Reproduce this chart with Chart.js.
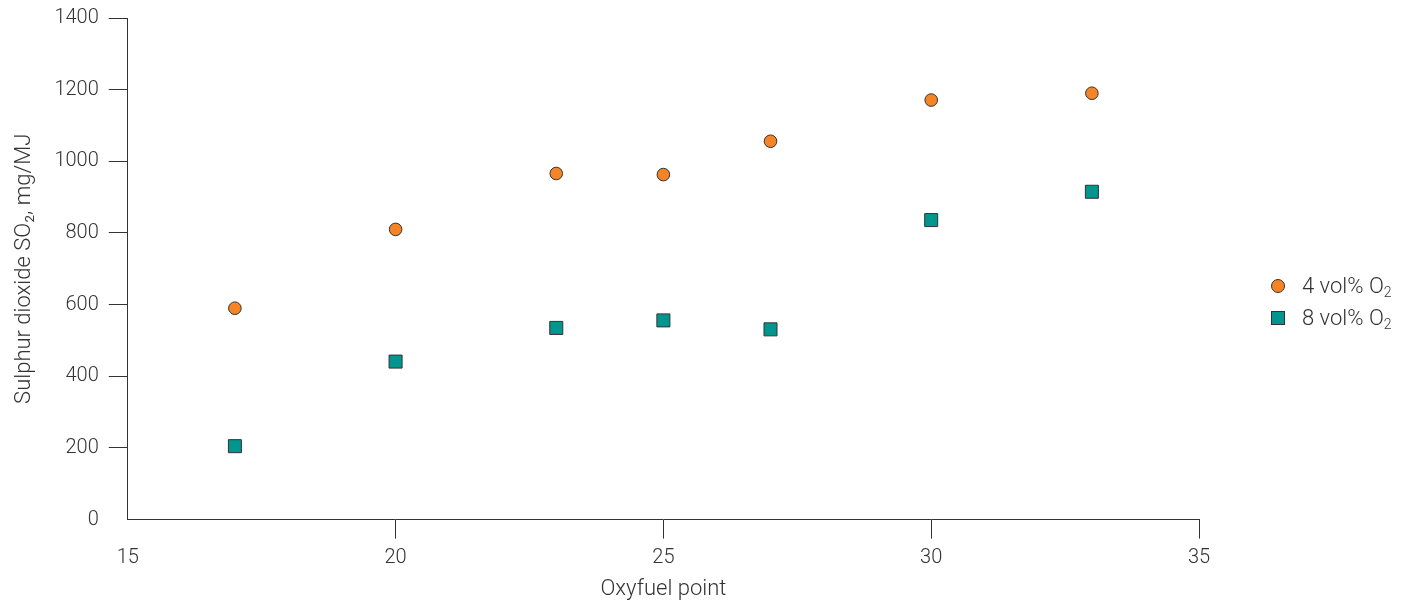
<!DOCTYPE html>
<html>
<head>
<meta charset="utf-8">
<script src="https://cdn.jsdelivr.net/npm/chart.js@4/dist/chart.umd.min.js"></script>
<style>
  html, body { margin: 0; padding: 0; background: #fff; }
  #wrap { position: relative; width: 1415px; height: 605px; }
  #legend { position: absolute; left: 1271px; top: 270px; font-family: Roboto, "Liberation Sans", Arial, sans-serif; font-weight: 300; font-size: 22px; color: #333; }
  #legend .item { display: flex; align-items: center; height: 32px; }
  #legend .mark { width: 12px; height: 12px; border: 1px solid #333; margin-right: 17px; box-sizing: content-box; }
  #legend sub { font-size: 14px; vertical-align: -4px; }
</style>
</head>
<body>
<div id="wrap">
  <canvas id="chart" width="1415" height="605"></canvas>
  <div id="legend"></div>
</div>
<script>
// data
const oxyfuelPoints = [17, 20, 23, 25, 27, 30, 33];
const so2At4 = [590, 810, 966, 963, 1056, 1171, 1190];
const so2At8 = [205, 441, 535, 556, 531, 836, 915];
const seriesNames = ["4 vol% O", "8 vol% O"];
const xTicks = [15, 20, 25, 30, 35];
const yTicks = [0, 200, 400, 600, 800, 1000, 1200, 1400];

const orange = "#F58426";
const teal = "#009690";
const ink = "#333333";
const fontFamily = 'Roboto, "Liberation Sans", Arial, sans-serif';

const toPoints = (vals) => oxyfuelPoints.map((x, i) => ({ x: x, y: vals[i] }));

const data = {
  datasets: [
    {
      label: seriesNames[0] + "\u2082",
      data: toPoints(so2At4),
      pointStyle: "circle",
      pointRadius: 6.3,
      backgroundColor: orange,
      borderColor: ink,
      borderWidth: 1,
    },
    {
      label: seriesNames[1] + "\u2082",
      data: toPoints(so2At8),
      pointStyle: "rect",
      pointRadius: 9.2,
      backgroundColor: teal,
      borderColor: ink,
      borderWidth: 1,
    },
  ],
};

const tickColor = (cornerValue) => (ctx) =>
  ctx.tick && ctx.tick.value === cornerValue ? "rgba(0,0,0,0)" : ink;

const options = {
  responsive: false,
  animation: false,
  layout: { padding: { top: 10, right: 216, left: 0, bottom: 2 } },
  plugins: {
    legend: { display: false },
    tooltip: { enabled: false },
  },
  scales: {
    x: {
      type: "linear",
      min: 15,
      max: 35,
      afterBuildTicks: (axis) => { axis.ticks = xTicks.map((v) => ({ value: v })); },
      border: { color: ink, width: 1 },
      grid: { drawOnChartArea: false, tickLength: 19, color: tickColor(15), lineWidth: 1 },
      ticks: { color: ink, padding: 7, callback: (v) => String(v), font: { family: fontFamily, size: 20, weight: 300 } },
      title: {
        display: true,
        text: "Oxyfuel point",
        color: ink,
        padding: { top: 0, bottom: 0 },
        font: { family: fontFamily, size: 22, weight: 300 },
      },
    },
    y: {
      type: "linear",
      min: 0,
      max: 1400,
      afterBuildTicks: (axis) => { axis.ticks = yTicks.map((v) => ({ value: v })); },
      border: { color: ink, width: 1 },
      grid: { drawOnChartArea: false, tickLength: 19, color: tickColor(0), lineWidth: 1 },
      ticks: { color: ink, padding: 10, callback: (v) => String(v), font: { family: fontFamily, size: 20, weight: 300, lineHeight: 0.8 } },
      title: {
        display: true,
        text: "Sulphur dioxide SO\u2082, mg/MJ",
        color: ink,
        padding: { top: 11, bottom: 7 },
        font: { family: fontFamily, size: 22, weight: 300 },
      },
    },
  },
};

const chart = new Chart(document.getElementById("chart").getContext("2d"), {
  type: "scatter",
  data: data,
  options: options,
});

// legend on the right, with a real subscript
const legendEl = document.getElementById("legend");
data.datasets.forEach((ds, i) => {
  const item = document.createElement("div");
  item.className = "item";
  const mark = document.createElement("span");
  mark.className = "mark";
  mark.style.background = ds.backgroundColor;
  if (ds.pointStyle === "circle") mark.style.borderRadius = "50%";
  const txt = document.createElement("span");
  txt.innerHTML = seriesNames[i] + "<sub>2</sub>";
  item.appendChild(mark);
  item.appendChild(txt);
  legendEl.appendChild(item);
});
</script>
</body>
</html>
